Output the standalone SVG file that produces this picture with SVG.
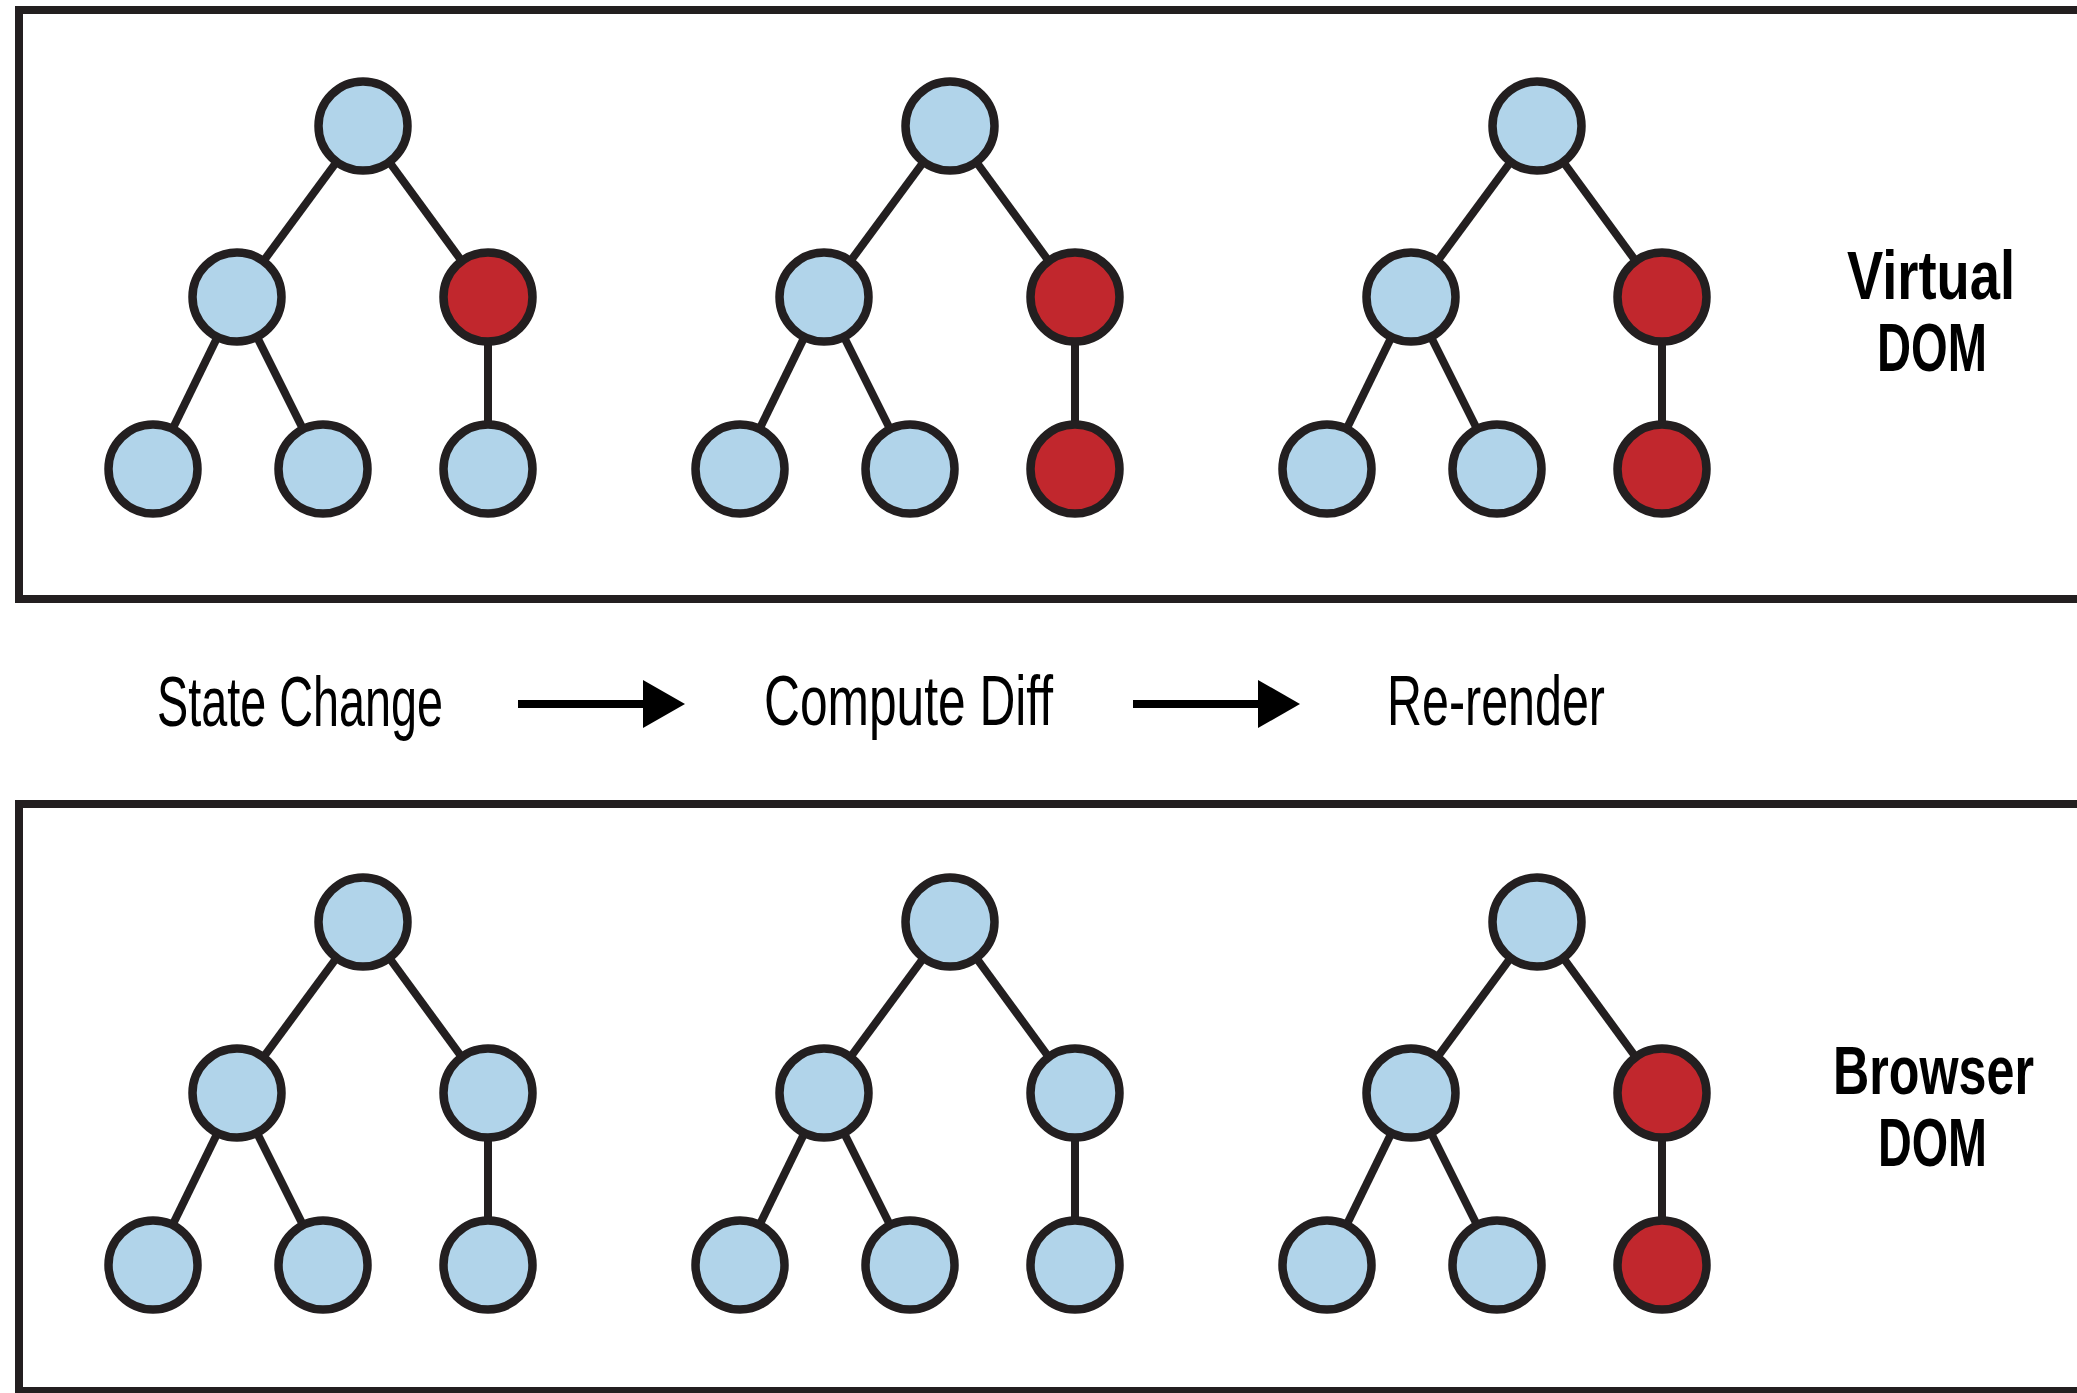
<svg xmlns="http://www.w3.org/2000/svg" width="2077" height="1393" viewBox="0 0 2077 1393">
<defs>
<style>
.frame{fill:none;stroke:#231f20;stroke-width:8}
.edge{stroke:#231f20;stroke-width:8;stroke-linecap:butt}
.n{stroke:#231f20;stroke-width:8.5}
.b{fill:#b1d4ea}
.r{fill:#c1272d}
.lbl{font-family:"Liberation Sans",Arial,sans-serif;font-size:70px;fill:#000}
.ttl{font-family:"Liberation Sans",Arial,sans-serif;font-weight:bold;font-size:68px;fill:#000}
.arrow{stroke:#000;stroke-width:8}
</style>
<marker id="ah" markerUnits="userSpaceOnUse" markerWidth="44" markerHeight="50" viewBox="0 0 44 50" refX="1" refY="24" orient="auto">
<path d="M0,0 L42,24 L0,48 Z" fill="#000"/>
</marker>
</defs>
<rect fill="#fff" x="0" y="0" width="2077" height="1393"/>
<g id="frames">
<rect class="frame" x="19" y="10" width="2100" height="589"/>
<rect class="frame" x="19" y="804" width="2100" height="587"/>
</g>
<g id="connectors">
<line class="edge" x1="363" y1="126" x2="237" y2="297"/>
<line class="edge" x1="363" y1="126" x2="488" y2="297"/>
<line class="edge" x1="237" y1="297" x2="153" y2="469"/>
<line class="edge" x1="237" y1="297" x2="323" y2="469"/>
<line class="edge" x1="488" y1="297" x2="488" y2="469"/>
<line class="edge" x1="950" y1="126" x2="824" y2="297"/>
<line class="edge" x1="950" y1="126" x2="1075" y2="297"/>
<line class="edge" x1="824" y1="297" x2="740" y2="469"/>
<line class="edge" x1="824" y1="297" x2="910" y2="469"/>
<line class="edge" x1="1075" y1="297" x2="1075" y2="469"/>
<line class="edge" x1="1537" y1="126" x2="1411" y2="297"/>
<line class="edge" x1="1537" y1="126" x2="1662" y2="297"/>
<line class="edge" x1="1411" y1="297" x2="1327" y2="469"/>
<line class="edge" x1="1411" y1="297" x2="1497" y2="469"/>
<line class="edge" x1="1662" y1="297" x2="1662" y2="469"/>
<line class="edge" x1="363" y1="922" x2="237" y2="1093"/>
<line class="edge" x1="363" y1="922" x2="488" y2="1093"/>
<line class="edge" x1="237" y1="1093" x2="153" y2="1265"/>
<line class="edge" x1="237" y1="1093" x2="323" y2="1265"/>
<line class="edge" x1="488" y1="1093" x2="488" y2="1265"/>
<line class="edge" x1="950" y1="922" x2="824" y2="1093"/>
<line class="edge" x1="950" y1="922" x2="1075" y2="1093"/>
<line class="edge" x1="824" y1="1093" x2="740" y2="1265"/>
<line class="edge" x1="824" y1="1093" x2="910" y2="1265"/>
<line class="edge" x1="1075" y1="1093" x2="1075" y2="1265"/>
<line class="edge" x1="1537" y1="922" x2="1411" y2="1093"/>
<line class="edge" x1="1537" y1="922" x2="1662" y2="1093"/>
<line class="edge" x1="1411" y1="1093" x2="1327" y2="1265"/>
<line class="edge" x1="1411" y1="1093" x2="1497" y2="1265"/>
<line class="edge" x1="1662" y1="1093" x2="1662" y2="1265"/>
<line class="arrow" x1="518" y1="704" x2="644" y2="704" marker-end="url(#ah)"/>
<line class="arrow" x1="1133" y1="704" x2="1259" y2="704" marker-end="url(#ah)"/>
</g>
<g id="vdom-tree-1">
<circle class="n b" cx="363" cy="126" r="44.5"/>
<circle class="n b" cx="237" cy="297" r="44.5"/>
<circle class="n r" cx="488" cy="297" r="44.5"/>
<circle class="n b" cx="153" cy="469" r="44.5"/>
<circle class="n b" cx="323" cy="469" r="44.5"/>
<circle class="n b" cx="488" cy="469" r="44.5"/>
</g>
<g id="vdom-tree-2">
<circle class="n b" cx="950" cy="126" r="44.5"/>
<circle class="n b" cx="824" cy="297" r="44.5"/>
<circle class="n r" cx="1075" cy="297" r="44.5"/>
<circle class="n b" cx="740" cy="469" r="44.5"/>
<circle class="n b" cx="910" cy="469" r="44.5"/>
<circle class="n r" cx="1075" cy="469" r="44.5"/>
</g>
<g id="vdom-tree-3">
<circle class="n b" cx="1537" cy="126" r="44.5"/>
<circle class="n b" cx="1411" cy="297" r="44.5"/>
<circle class="n r" cx="1662" cy="297" r="44.5"/>
<circle class="n b" cx="1327" cy="469" r="44.5"/>
<circle class="n b" cx="1497" cy="469" r="44.5"/>
<circle class="n r" cx="1662" cy="469" r="44.5"/>
</g>
<g id="bdom-tree-1">
<circle class="n b" cx="363" cy="922" r="44.5"/>
<circle class="n b" cx="237" cy="1093" r="44.5"/>
<circle class="n b" cx="488" cy="1093" r="44.5"/>
<circle class="n b" cx="153" cy="1265" r="44.5"/>
<circle class="n b" cx="323" cy="1265" r="44.5"/>
<circle class="n b" cx="488" cy="1265" r="44.5"/>
</g>
<g id="bdom-tree-2">
<circle class="n b" cx="950" cy="922" r="44.5"/>
<circle class="n b" cx="824" cy="1093" r="44.5"/>
<circle class="n b" cx="1075" cy="1093" r="44.5"/>
<circle class="n b" cx="740" cy="1265" r="44.5"/>
<circle class="n b" cx="910" cy="1265" r="44.5"/>
<circle class="n b" cx="1075" cy="1265" r="44.5"/>
</g>
<g id="bdom-tree-3">
<circle class="n b" cx="1537" cy="922" r="44.5"/>
<circle class="n b" cx="1411" cy="1093" r="44.5"/>
<circle class="n r" cx="1662" cy="1093" r="44.5"/>
<circle class="n b" cx="1327" cy="1265" r="44.5"/>
<circle class="n b" cx="1497" cy="1265" r="44.5"/>
<circle class="n r" cx="1662" cy="1265" r="44.5"/>
</g>
<g id="label-virtual-dom">
<text class="ttl" x="1847" y="299" textLength="168" lengthAdjust="spacingAndGlyphs">Virtual</text>
<text class="ttl" x="1877" y="371" textLength="110" lengthAdjust="spacingAndGlyphs">DOM</text>
</g>
<g id="label-browser-dom">
<text class="ttl" x="1833" y="1094" textLength="201" lengthAdjust="spacingAndGlyphs">Browser</text>
<text class="ttl" x="1878" y="1166" textLength="109" lengthAdjust="spacingAndGlyphs">DOM</text>
</g>
<g id="step-state-change">
<text class="lbl" x="157" y="726" textLength="286" lengthAdjust="spacingAndGlyphs">State Change</text>
</g>
<g id="step-compute-diff">
<text class="lbl" x="764" y="725" textLength="289" lengthAdjust="spacingAndGlyphs">Compute Diff</text>
</g>
<g id="step-re-render">
<text class="lbl" x="1387" y="725" textLength="218" lengthAdjust="spacingAndGlyphs">Re-render</text>
</g>
</svg>
